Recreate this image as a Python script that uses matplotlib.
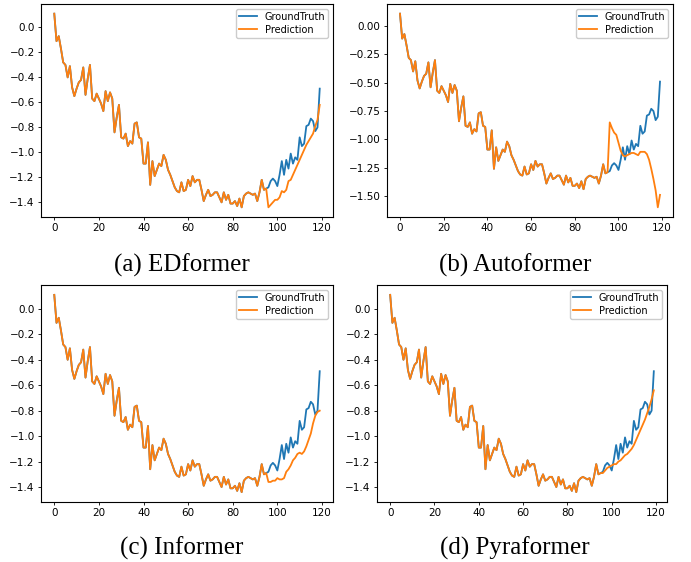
import matplotlib
matplotlib.use("Agg")
import matplotlib.pyplot as plt
import numpy as np

ground_truth = [
    0.11, -0.11, -0.07, -0.17, -0.28, -0.30, -0.40, -0.31, -0.48, -0.55,
    -0.49, -0.44, -0.42, -0.32, -0.54, -0.41, -0.30, -0.57, -0.59, -0.53,
    -0.57, -0.61, -0.67, -0.51, -0.59, -0.52, -0.57, -0.84, -0.72, -0.62,
    -0.88, -0.89, -0.85, -0.95, -0.91, -0.93, -0.77, -0.76, -0.88, -0.89,
    -1.09, -1.09, -0.92, -1.26, -1.07, -1.19, -1.14, -1.09, -1.11, -1.02,
    -1.06, -1.14, -1.18, -1.23, -1.28, -1.31, -1.32, -1.24, -1.31, -1.30,
    -1.22, -1.27, -1.19, -1.24, -1.22, -1.22, -1.30, -1.39, -1.34, -1.30,
    -1.35, -1.34, -1.32, -1.32, -1.36, -1.40, -1.32, -1.38, -1.34, -1.41,
    -1.41, -1.39, -1.43, -1.37, -1.44, -1.35, -1.33, -1.32, -1.33, -1.34,
    -1.33, -1.39, -1.32, -1.22, -1.30, -1.29, -1.28, -1.23, -1.21, -1.23,
    -1.27, -1.18, -1.07, -1.18, -1.06, -1.13, -1.01, -1.09, -1.04, -1.06,
    -0.88, -0.95, -0.93, -0.79, -0.78, -0.73, -0.75, -0.83, -0.80, -0.49,
]

input_len = 96

edformer_pred = [
    -1.44, -1.42, -1.40, -1.38, -1.38, -1.36, -1.31, -1.32, -1.30, -1.23,
    -1.22, -1.18, -1.14, -1.10, -1.06, -1.02, -0.98, -0.94, -0.91, -0.88,
    -0.85, -0.79, -0.74, -0.62,
]
autoformer_pred = [
    -0.85, -0.90, -0.94, -0.96, -1.03, -1.10, -1.14, -1.15, -1.14, -1.13,
    -1.12, -1.12, -1.13, -1.14, -1.11, -1.11, -1.11, -1.13, -1.18, -1.26,
    -1.35, -1.45, -1.60, -1.49,
]
informer_pred = [
    -1.36, -1.36, -1.35, -1.35, -1.33, -1.34, -1.34, -1.33, -1.28, -1.26,
    -1.23, -1.19, -1.17, -1.14, -1.13, -1.14, -1.12, -1.08, -1.03, -0.98,
    -0.90, -0.84, -0.81, -0.80,
]
pyraformer_pred = [
    -1.29, -1.27, -1.25, -1.24, -1.23, -1.22, -1.22, -1.20, -1.19, -1.17,
    -1.15, -1.14, -1.12, -1.10, -1.07, -1.03, -0.99, -0.95, -0.91, -0.87,
    -0.82, -0.77, -0.71, -0.64,
]

captions = ["(a) EDformer", "(b) Autoformer", "(c) Informer", "(d) Pyraformer"]
preds = [edformer_pred, autoformer_pred, informer_pred, pyraformer_pred]

# axes rectangles in pixels: left, right, top, bottom
W, H = 691, 562
rects = [
    (41, 333, 4, 217),
    (387, 673, 4, 217),
    (41, 333, 285, 502),
    (377, 667, 285, 502),
]
caption_pos = [(182, 265), (515, 265), (182, 548), (515, 548)]

fig = plt.figure(figsize=(W / 100, H / 100), dpi=100)
x = np.arange(len(ground_truth))
for i in range(4):
    l, r, t, b = rects[i]
    ax = fig.add_axes([l / W, 1 - b / H, (r - l) / W, (b - t) / H])
    pred_full = list(ground_truth[:input_len]) + list(preds[i])
    ax.plot(x, ground_truth, color="#1f77b4", lw=1.3, label="GroundTruth")
    ax.plot(x, pred_full, color="#ff7f0e", lw=1.3, label="Prediction")
    ax.tick_params(labelsize=7.5, length=2.5, width=0.6, pad=2)
    for s in ax.spines.values():
        s.set_linewidth(0.8)
    ax.legend(loc="upper right", fontsize=7, handlelength=1.8,
              borderpad=0.3, labelspacing=0.3, framealpha=1)
    cx, cy = caption_pos[i]
    fig.text(cx / W, 1 - cy / H, captions[i], ha="center", va="center",
             fontsize=18, family="Liberation Serif")

fig.savefig("out.png", dpi=100)
